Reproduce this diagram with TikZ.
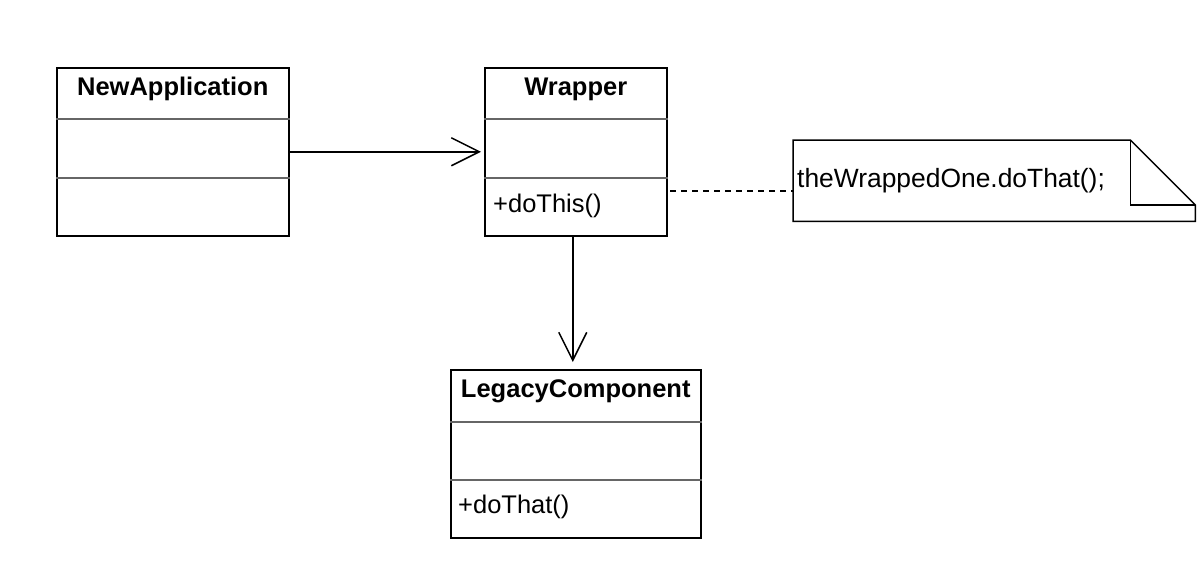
\documentclass[tikz,border=0pt]{standalone}
\usepackage{fontspec}
\setmainfont{Liberation Sans}
\usetikzlibrary{arrows.meta,calc}
\begin{document}
\begin{tikzpicture}[x=1pt,y=-1pt,
  cls/.style={draw=black,line width=1.5pt,minimum width=#1,minimum height=168pt,inner sep=0pt,anchor=north west},
  divider/.style={draw=black!60,line width=2.2pt},
  title/.style={font=\fontsize{25.5}{29}\selectfont\bfseries,inner sep=0pt},
  member/.style={font=\fontsize{25.5}{29}\selectfont,inner sep=0pt,anchor=west},
  assoc/.style={line width=1.5pt,-{Straight Barb[length=28pt,width=28pt,line width=1.5pt]}},
  notebox/.style={minimum width=402pt,minimum height=81pt,inner sep=0pt,anchor=north west}
]
\useasboundingbox (0,0) rectangle (1203,574);
\fill[white] (0,0) rectangle (1203,574);

% NewApplication
\node[cls=232pt] (na) at (56,67) {};
\draw[divider] ($(na.north west)+(0,52)$) -- ($(na.north east)+(0,52)$);
\draw[divider] ($(na.north west)+(0,111)$) -- ($(na.north east)+(0,111)$);
\node[title] (nat) at ($(na.north)+(0,22)$) {NewApplication};

% Wrapper
\node[cls=182pt] (wr) at (484,67) {};
\draw[divider] ($(wr.north west)+(0,52)$) -- ($(wr.north east)+(0,52)$);
\draw[divider] ($(wr.north west)+(0,111)$) -- ($(wr.north east)+(0,111)$);
\node[title] (wrt) at ($(wr.north)+(0,22)$) {Wrapper};
\node[member] (wrm) at ($(wr.north west)+(9,139)$) {+doThis()};

% LegacyComponent
\node[cls=250pt] (lc) at (450,369) {};
\draw[divider] ($(lc.north west)+(0,53)$) -- ($(lc.north east)+(0,53)$);
\draw[divider] ($(lc.north west)+(0,111)$) -- ($(lc.north east)+(0,111)$);
\node[title] (lct) at ($(lc.north)+(0,22)$) {LegacyComponent};
\node[member] (lcm) at ($(lc.north west)+(8,138)$) {+doThat()};

% Note
\node[notebox] (note) at (793,140) {};
\draw[line width=1.5pt,line join=miter]
  (note.north west) -- ($(note.north east)+(-65,0)$) -- ($(note.north east)+(0,65)$)
  -- (note.south east) -- (note.south west) -- cycle;
\draw[line width=1.5pt]
  ($(note.north east)+(-65,0)$) -- ($(note.north east)+(-65,65)$) -- ($(note.north east)+(0,65)$);
\node[member,font=\fontsize{26.4}{30}\selectfont] (nt) at ($(note.north west)+(4,41)$) {theWrappedOne.doThat();};

% Connectors
\draw[assoc] (na.east) -- ($(wr.west)+(-3,0)$);
\draw[assoc,shorten >=7pt] ($(wr.south)+(-3,0)$) -- ($(lc.north)+(-3,0)$);
\coordinate (d1) at (670,191);
\draw[line width=1.5pt,dash pattern=on 6pt off 5pt] (d1) -- (d1 -| note.west);
\end{tikzpicture}
\end{document}
